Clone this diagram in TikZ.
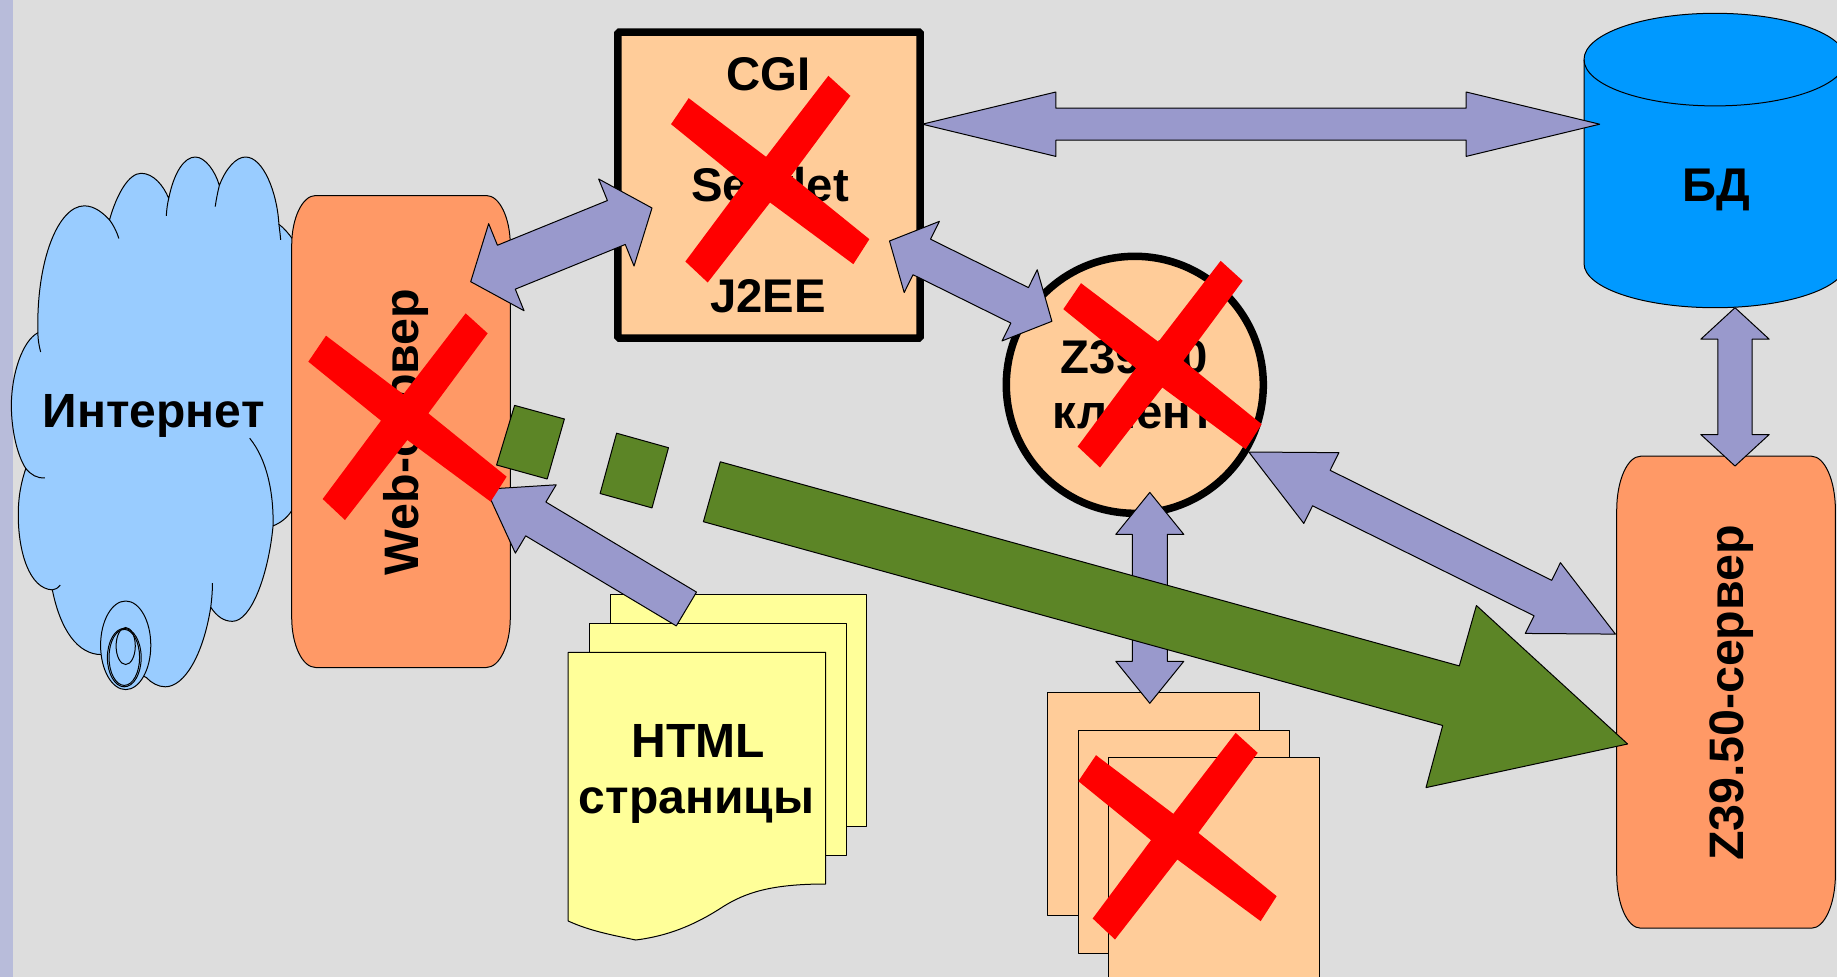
\documentclass[tikz,border=0pt]{standalone}
\usepackage{fontspec}
\setmainfont{Liberation Sans}
\usetikzlibrary{calc}
\definecolor{bgc}{HTML}{DDDDDD}
\definecolor{stripc}{HTML}{B8BCDA}
\definecolor{cloudc}{HTML}{99CCFF}
\definecolor{serverc}{HTML}{FF9966}
\definecolor{procc}{HTML}{FFCC99}
\definecolor{dbc}{HTML}{0099FF}
\definecolor{pagec}{HTML}{FFFF99}
\definecolor{arrowc}{HTML}{9999CC}
\definecolor{greenc}{HTML}{5C8526}
\tikzset{
  thin outline/.style={draw=black,line width=1pt,line join=round},
  blockarrow/.style={thin outline,fill=arrowc},
  greenblock/.style={thin outline,fill=greenc},
  heavy/.style={draw=black,line width=7.5pt,fill=procc,inner sep=0pt},
  pagebox/.style={thin outline,fill=pagec},
  procpage/.style={thin outline,fill=procc},
  serverbox/.style={thin outline,fill=serverc},
  crossmark/.style={fill=red,draw=none},
  label/.style={inner sep=0pt,anchor=base,font=\bfseries\fontsize{48}{50}\selectfont},
  boxlabel/.style={inner sep=0pt,anchor=base,font=\bfseries\fontsize{47.3}{50}\selectfont},
  vlabel/.style={inner sep=0pt,anchor=base,rotate=90,font=\bfseries\fontsize{48.4}{50}\selectfont},
}
% double-headed block arrow: tip A, tip B, head length, half head width, half shaft width
\newcommand{\dblblock}[5]{%
  \path[blockarrow] (#1)
    -- ($(#1)!#3pt!(#2)!#4pt!90:(#2)$) -- ($(#1)!#3pt!(#2)!#5pt!90:(#2)$)
    -- ($(#2)!#3pt!(#1)!#5pt!-90:(#1)$) -- ($(#2)!#3pt!(#1)!#4pt!-90:(#1)$)
    -- (#2)
    -- ($(#2)!#3pt!(#1)!#4pt!90:(#1)$) -- ($(#2)!#3pt!(#1)!#5pt!90:(#1)$)
    -- ($(#1)!#3pt!(#2)!#5pt!-90:(#2)$) -- ($(#1)!#3pt!(#2)!#4pt!-90:(#2)$)
    -- cycle;}
% single-headed block arrow: tip A, tail B
\newcommand{\sglblock}[5]{%
  \path[blockarrow] (#1)
    -- ($(#1)!#3pt!(#2)!#4pt!90:(#2)$) -- ($(#1)!#3pt!(#2)!#5pt!90:(#2)$)
    -- ($(#2)!#5pt!-90:(#1)$) -- ($(#2)!#5pt!90:(#1)$)
    -- ($(#1)!#3pt!(#2)!#5pt!-90:(#2)$) -- ($(#1)!#3pt!(#2)!#4pt!-90:(#2)$)
    -- cycle;}
% red cross, #1,#2 = origin of its own 3x grid
\newcommand{\redcross}[2]{%
  \begin{scope}[shift={(#1,#2)},x=0.33333pt,y=-0.33333pt]
  \path[crossmark] (78,92) -- (310,268) -- (497,25) -- (563,85) -- (385,325) -- (620,515)
    -- (572,590) -- (322,405) -- (135,645) -- (68,582) -- (243,347) -- (25,170) -- cycle;
  \end{scope}}
\begin{document}
\begin{tikzpicture}[x=1pt,y=-1pt]
\useasboundingbox (0,0) rectangle (1837,977);
\clip (0,0) rectangle (1837,977);
\fill[bgc] (0,0) rectangle (1837,977);
\fill[stripc] (0,0) rectangle (12.7,977);

% cloud (Internet)
\begin{scope}[shift={(0,130)},x=0.34435pt,y=-0.36996pt]
\path[thin outline,fill=cloudc]
  (295,1418) .. controls (225,1418) and (175,1350) .. (152,1243)
  .. controls (85,1240) and (53,1140) .. (53,1040) .. controls (53,990) and (62,950) .. (75,915)
  .. controls (50,880) and (33,810) .. (33,745) .. controls (33,660) and (65,570) .. (110,548)
  .. controls (105,350) and (170,205) .. (245,205) .. controls (275,205) and (300,225) .. (318,243)
  .. controls (340,170) and (375,117) .. (410,117) .. controls (445,117) and (475,150) .. (490,185)
  .. controls (505,115) and (535,73) .. (567,73) .. controls (595,73) and (625,110) .. (637,150)
  .. controls (655,105) and (685,73) .. (713,73) .. controls (765,73) and (805,170) .. (810,255)
  .. controls (825,265) and (838,280) .. (850,295)
  -- (850,1025)
  .. controls (835,1048) and (815,1062) .. (793,1070)
  .. controls (780,1200) and (730,1328) .. (675,1328) .. controls (650,1328) and (630,1315) .. (612,1290)
  .. controls (590,1420) and (535,1505) .. (480,1505) .. controls (460,1505) and (440,1495) .. (425,1480)
  -- (295,1418) -- cycle;
\draw[line width=1pt]
  (152,1243) .. controls (160,1243) and (168,1238) .. (175,1230)
  (75,915) .. controls (90,932) and (108,942) .. (130,940)
  (110,548) .. controls (110,565) and (113,582) .. (118,600)
  (318,243) .. controls (328,255) and (338,272) .. (345,293)
  (490,185) .. controls (486,200) and (484,215) .. (483,232)
  (637,150) .. controls (632,168) and (628,188) .. (625,207)
  (810,255) .. controls (812,270) and (814,284) .. (815,297)
  (793,1070) .. controls (795,980) and (775,890) .. (725,833)
  (612,1290) .. controls (615,1268) and (617,1246) .. (617,1225);
\end{scope}
\draw[thin outline,fill=cloudc] (125.7,645.3) ellipse [x radius=25.1pt,y radius=44.3pt];
\draw[line width=1pt] (124.3,657.6) ellipse [x radius=16.9pt,y radius=29.2pt];
\draw[line width=1pt] (124.3,657.4) ellipse [x radius=15.3pt,y radius=28pt];
\draw[line width=1pt] (125.7,646) ellipse [x radius=9.6pt,y radius=18.5pt];
\node[label] (inet) at (153.7,427.8) {Интернет};

% Web server
\path[serverbox] (315.7,195.5) -- (486.3,195.5)
  arc [start angle=90,end angle=0,x radius=24pt,y radius=50pt]
  -- (510.3,617.5) arc [start angle=0,end angle=-90,x radius=24pt,y radius=50pt]
  -- (315.7,667.5) arc [start angle=-90,end angle=-180,x radius=24pt,y radius=50pt]
  -- (291.7,245.5) arc [start angle=180,end angle=90,x radius=24pt,y radius=50pt] -- cycle;
\node[vlabel] (web) at (418,432) {Web-сервер};

% CGI box
\node[heavy,rectangle,rounded corners=1.5pt,minimum width=302.4pt,minimum height=306pt] (cgi) at (769,185) {};
\node[boxlabel] (tcgi) at (768.5,90.2) {CGI};
\node[boxlabel] (tservlet) at (770,201.4) {Servlet};
\node[boxlabel] (tj2ee) at (768,312.7) {J2EE};

% Z39.50 client
\node[heavy,circle,minimum size=257pt] (client) at (1134.8,384.8) {};
\node[boxlabel] (tz1) at (1134,373.6) {Z39.50};
\node[boxlabel] (tz2) at (1133.5,428.7) {клиент};

% database
\path[thin outline,fill=dbc] (1584,59.5) -- (1584,263.5)
  arc [start angle=180,end angle=360,x radius=131pt,y radius=44.2pt]
  -- (1846,59.5) arc [start angle=0,end angle=180,x radius=131pt,y radius=46.2pt] -- cycle;
\draw[line width=1pt] (1584,59.5) arc [start angle=180,end angle=360,x radius=131pt,y radius=46.4pt];
\node[boxlabel] (tdb) at (1716.8,201) {БД};

% Z39.50 server
\path[serverbox] (1640.7,456.2) -- (1811.4,456.2)
  arc [start angle=90,end angle=0,x radius=24pt,y radius=54pt]
  -- (1835.4,874.2) arc [start angle=0,end angle=-90,x radius=24pt,y radius=54pt]
  -- (1640.7,928.2) arc [start angle=-90,end angle=-180,x radius=24pt,y radius=54pt]
  -- (1616.7,510.2) arc [start angle=180,end angle=90,x radius=24pt,y radius=54pt] -- cycle;
\node[vlabel] (zsrv) at (1743,692.7) {Z39.50-сервер};

% HTML pages
\path[pagebox] (610,594.3) rectangle (866.9,826.3);
\path[pagebox] (589.7,623.3) rectangle (846.5,855.3);
\path[pagebox] (568.2,652.3) -- (825.6,652.3) -- (825.6,884)
  .. controls (770,884) and (745,893) .. (723,906.7)
  .. controls (695,925) and (668,936) .. (635.7,940)
  .. controls (612,935) and (590,931) .. (568.2,921) -- cycle;
\node[label] (thtml) at (698,757.3) {HTML};
\node[label] (tpages) at (696.4,813.3) {страницы};

% result pages
\path[procpage] (1047.8,692.7) rectangle (1259.7,915.3);
\path[procpage] (1078.7,730.3) rectangle (1289.5,953.3);
\path[procpage] (1108.5,757) rectangle (1319.8,990);

% connector ends
\coordinate (a1) at (470.7,281.7);  \coordinate (b1) at (652,208);
\coordinate (a2) at (922.3,124.2);  \coordinate (b2) at (1599.7,124.2);
\coordinate (a3) at (889.5,241);    \coordinate (b3) at (1051.9,321.3);
\coordinate (a4) at (1248.8,452);   \coordinate (b4) at (1615.4,634.1);
\coordinate (a5) at (1149.8,492.4); \coordinate (b5) at (1149.8,703.3);
\coordinate (a6) at (1735,307.7);   \coordinate (b6) at (1735,466);
\coordinate (a7) at (486,489.2);    \coordinate (b7) at (686.4,609);

\dblblock{a1}{b1}{38.5}{47}{23.7}
\dblblock{a2}{b2}{133.5}{32.2}{16}
\dblblock{a3}{b3}{36}{39.7}{19.8}
\dblblock{a4}{b4}{81}{39.5}{19.8}
\dblblock{a5}{b5}{42}{34}{17.5}
\dblblock{a6}{b6}{31.5}{34.2}{17.2}
\sglblock{a7}{b7}{58}{39.8}{19.7}

% dashed green arrow
\path[greenblock] (514.6,405.4) -- (564.4,419) -- (547.2,479) -- (496.6,465) -- cycle;
\path[greenblock] (616.6,433.2) -- (668.5,447.7) -- (652,507.9) -- (600.1,493.5) -- cycle;
\path[greenblock] (720.3,461.8) -- (1459.3,665.9) -- (1476.4,605.5) -- (1627.6,744)
  -- (1426,787.6) -- (1442.7,725.5) -- (703.4,521.7) -- cycle;

% red crosses
\redcross{300}{305}
\redcross{662.7}{67.5}
\redcross{1055}{252.5}
\redcross{1070}{724.5}
\end{tikzpicture}
\end{document}
